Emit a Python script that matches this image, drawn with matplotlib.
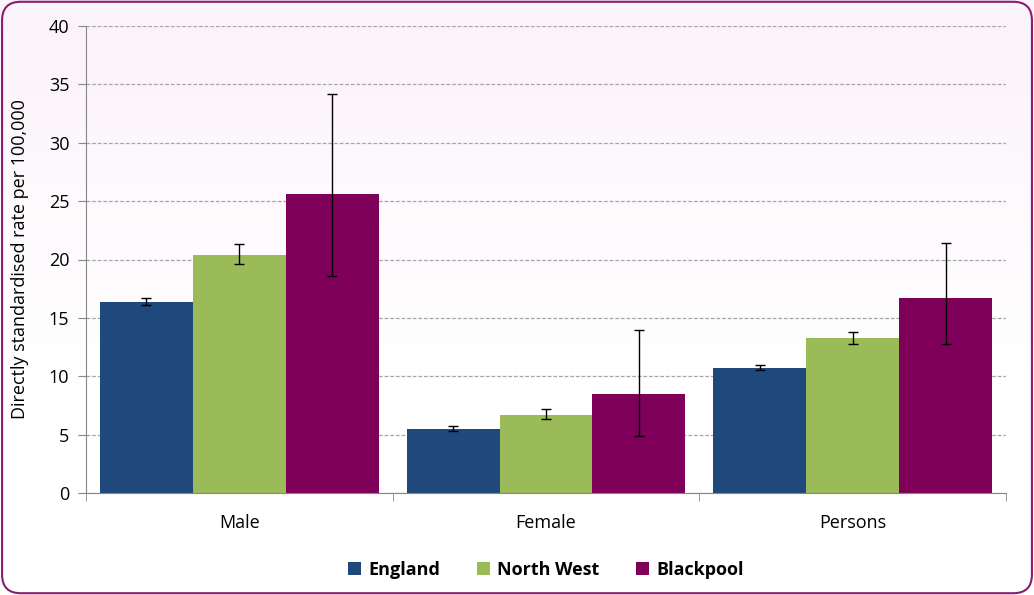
import numpy as np
import matplotlib.pyplot as plt
from matplotlib.patches import FancyBboxPatch

# Data
categories = ['Male', 'Female', 'Persons']
series = ['England', 'North West', 'Blackpool']
colours = ['#1F497D', '#9BBB59', '#7F0059']

england = [16.4, 5.5, 10.7]
england_lo = [16.1, 5.3, 10.5]
england_hi = [16.7, 5.7, 11.0]

north_west = [20.4, 6.7, 13.3]
north_west_lo = [19.6, 6.3, 12.8]
north_west_hi = [21.3, 7.2, 13.8]

blackpool = [25.6, 8.5, 16.7]
blackpool_lo = [18.6, 4.9, 12.8]
blackpool_hi = [34.2, 14.0, 21.4]

yticks = [0, 5, 10, 15, 20, 25, 30, 35, 40]

plt.rcParams['font.family'] = ['Open Sans', 'DejaVu Sans']

fig = plt.figure(figsize=(10.34, 5.95), dpi=100)

# pinkish gradient background with a rounded purple frame
bg = fig.add_axes([0, 0, 1, 1], zorder=-10)
grad = np.linspace(0, 1, 256).reshape(-1, 1)
top = np.array([251, 243, 250]) / 255.
bot = np.array([255, 255, 255]) / 255.
img = top + (bot - top) * np.clip(grad * 1.6, 0, 1)[:, :, None] * np.ones((1, 1, 3))
bg.imshow(img, aspect='auto', extent=[0, 1, 0, 1], origin='upper')
bg.set_xlim(0, 1)
bg.set_ylim(0, 1)
bg.axis('off')
frame = FancyBboxPatch((0.002, 0.003), 0.996, 0.994,
                       boxstyle='round,pad=0,rounding_size=0.018',
                       transform=bg.transAxes, fill=False,
                       edgecolor='#8B1A74', linewidth=1.5,
                       mutation_aspect=1034 / 595)
bg.add_patch(frame)
bg.set_facecolor('none')

ax = fig.add_axes([86 / 1034, 102 / 595, 920 / 1034, 467 / 595])
ax.patch.set_alpha(0)

x = np.arange(len(categories))
w = 0.303
vals = [england, north_west, blackpool]
los = [england_lo, north_west_lo, blackpool_lo]
his = [england_hi, north_west_hi, blackpool_hi]
for i, (name, v, lo, hi, c) in enumerate(zip(series, vals, los, his, colours)):
    xs = x + (i - 1) * w
    v = np.array(v)
    err = [v - np.array(lo), np.array(hi) - v]
    ax.bar(xs, v, width=w, color=c, label=name, zorder=2)
    ax.errorbar(xs, v, yerr=err, fmt='none', ecolor='black',
                elinewidth=1, capsize=3.6, capthick=1, zorder=3)

ax.set_xlim(-0.5, 2.5)
ax.set_ylim(0, 40)
ax.set_yticks(yticks)
ax.yaxis.grid(True, linestyle=(0, (3, 1.5)), color='#A6A6A6', linewidth=0.9, zorder=0)
ax.set_axisbelow(True)

ax.set_xticks(x)
ax.set_xticklabels(categories, fontsize=13)
ax.set_xticks([-0.5, 0.5, 1.5, 2.5], minor=True)
ax.tick_params(axis='x', which='major', length=0, pad=15)
ax.tick_params(axis='x', which='minor', length=6, color='#868686')
ax.tick_params(axis='y', length=6, color='#868686', labelsize=13, pad=6)

for s in ['top', 'right']:
    ax.spines[s].set_visible(False)
ax.spines['left'].set_color('#868686')
ax.spines['bottom'].set_color('#868686')

ax.set_ylabel('Directly standardised rate per 100,000', fontsize=13, labelpad=14)

leg = ax.legend(loc='upper center', bbox_to_anchor=(0.5, -0.11), ncol=3,
                frameon=False, handlelength=0.75, handleheight=0.75,
                handletextpad=0.4, columnspacing=2.0,
                prop={'weight': 'bold', 'size': 13})

fig.savefig('out.png', dpi=100)
